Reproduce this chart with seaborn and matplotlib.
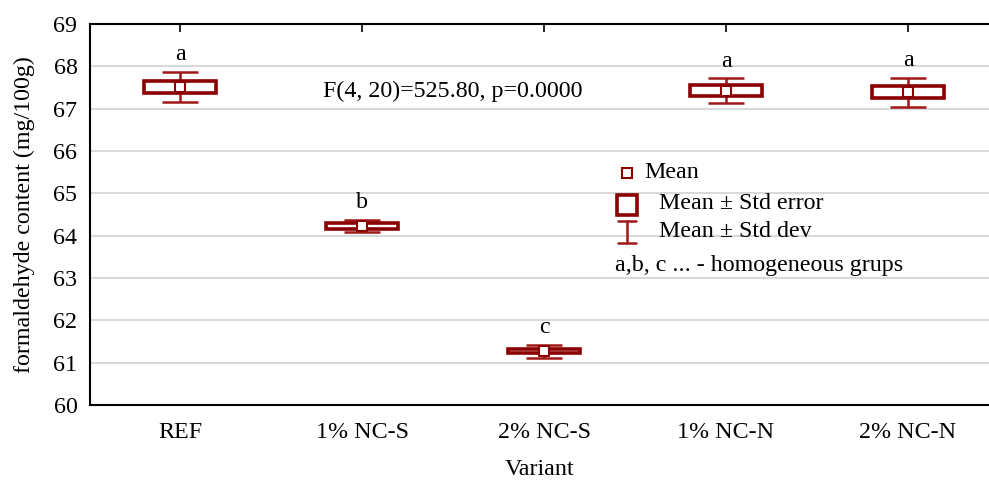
import numpy as np
import pandas as pd
import seaborn as sns
import matplotlib.pyplot as plt

# values
variants = ["REF", "1% NC-S", "2% NC-S", "1% NC-N", "2% NC-N"]
means = [67.51, 64.22, 61.27, 67.43, 67.39]
std_err = [0.145, 0.07, 0.055, 0.12, 0.14]
std_dev = [0.355, 0.14, 0.155, 0.285, 0.345]
groups = ["a", "b", "c", "a", "a"]
stat_text = "F(4, 20)=525.80, p=0.0000"

red = "#8b0000"
red2 = "#a01818"

sns.set_style("white")
plt.rcParams["font.family"] = ["Liberation Serif", "DejaVu Serif"]
plt.rcParams["font.size"] = 17.3
plt.rcParams["text.color"] = "black"
plt.rcParams["axes.labelcolor"] = "black"
plt.rcParams["xtick.color"] = "black"
plt.rcParams["ytick.color"] = "black"

df = pd.DataFrame({"variant": variants, "mean": means, "se": std_err, "sd": std_dev, "grp": groups})
df["x"] = np.arange(len(df))

fig = plt.figure(figsize=(9.89, 4.82), dpi=100)
ax = fig.add_axes([0.091, 0.160, 0.909, 0.790])

# std dev whiskers
ax.errorbar(df["x"], df["mean"], yerr=df["sd"], fmt="none", ecolor=red2,
            elinewidth=1.8, capsize=13.3, capthick=1.8, zorder=2)
# std error boxes
ax.bar(df["x"], 2 * df["se"], bottom=df["mean"] - df["se"], width=0.40,
       color="white", edgecolor=red, linewidth=2.6, zorder=3)
# means
sns.scatterplot(data=df, x="x", y="mean", marker="s", s=60, color="white",
                edgecolor=red, linewidth=1.5, zorder=4, ax=ax, legend=False)

for _, r in df.iterrows():
    ax.annotate(r["grp"], (r["x"], r["mean"] + r["sd"]), xytext=(0, 5),
                textcoords="offset points", ha="center", va="bottom")

ax.text(1.5, 67.42, stat_text, ha="center", va="center")

ax.set_xlim(-0.495, 4.445)
ax.set_ylim(60, 69)
ax.set_yticks(range(60, 70))
ax.set_xticks(df["x"])
ax.set_xticklabels(variants)
ax.yaxis.grid(True, color="#d9d9d9", linewidth=1.5)
ax.set_axisbelow(True)

for s in ["left", "bottom", "top"]:
    ax.spines[s].set_color("black")
    ax.spines[s].set_linewidth(1.5)
ax.spines["right"].set_visible(False)
ax.tick_params(axis="x", direction="in", length=6, width=1.2, top=True, pad=12, labelsize=17.3)
ax.tick_params(axis="y", direction="in", length=6, width=1.2, pad=9, labelsize=17.3)

ax.set_xlabel("Variant", labelpad=12)
ax.set_ylabel("formaldehyde content (mg/100g)", labelpad=13)

# legend drawn by hand
t = ax.transAxes
ax.plot([0.597], [0.609], marker="s", ms=7, mfc="white", mec=red, mew=1.5, transform=t, clip_on=False)
ax.text(0.617, 0.609, "Mean", transform=t, va="center")
ax.plot([0.597], [0.525], marker="s", ms=15, mfc="white", mec=red, mew=2.6, transform=t, clip_on=False)
ax.text(0.633, 0.530, "Mean \u00b1 Std error", transform=t, va="center")
ax.plot([0.597, 0.597], [0.425, 0.483], color=red2, lw=1.8, transform=t)
ax.plot([0.587, 0.607], [0.483, 0.483], color=red2, lw=1.8, transform=t)
ax.plot([0.587, 0.607], [0.425, 0.425], color=red2, lw=1.8, transform=t)
ax.text(0.633, 0.456, "Mean \u00b1 Std dev", transform=t, va="center")
ax.text(0.584, 0.367, "a,b, c ... - homogeneous grups", transform=t, va="center")

fig.savefig("out.png", dpi=100)
